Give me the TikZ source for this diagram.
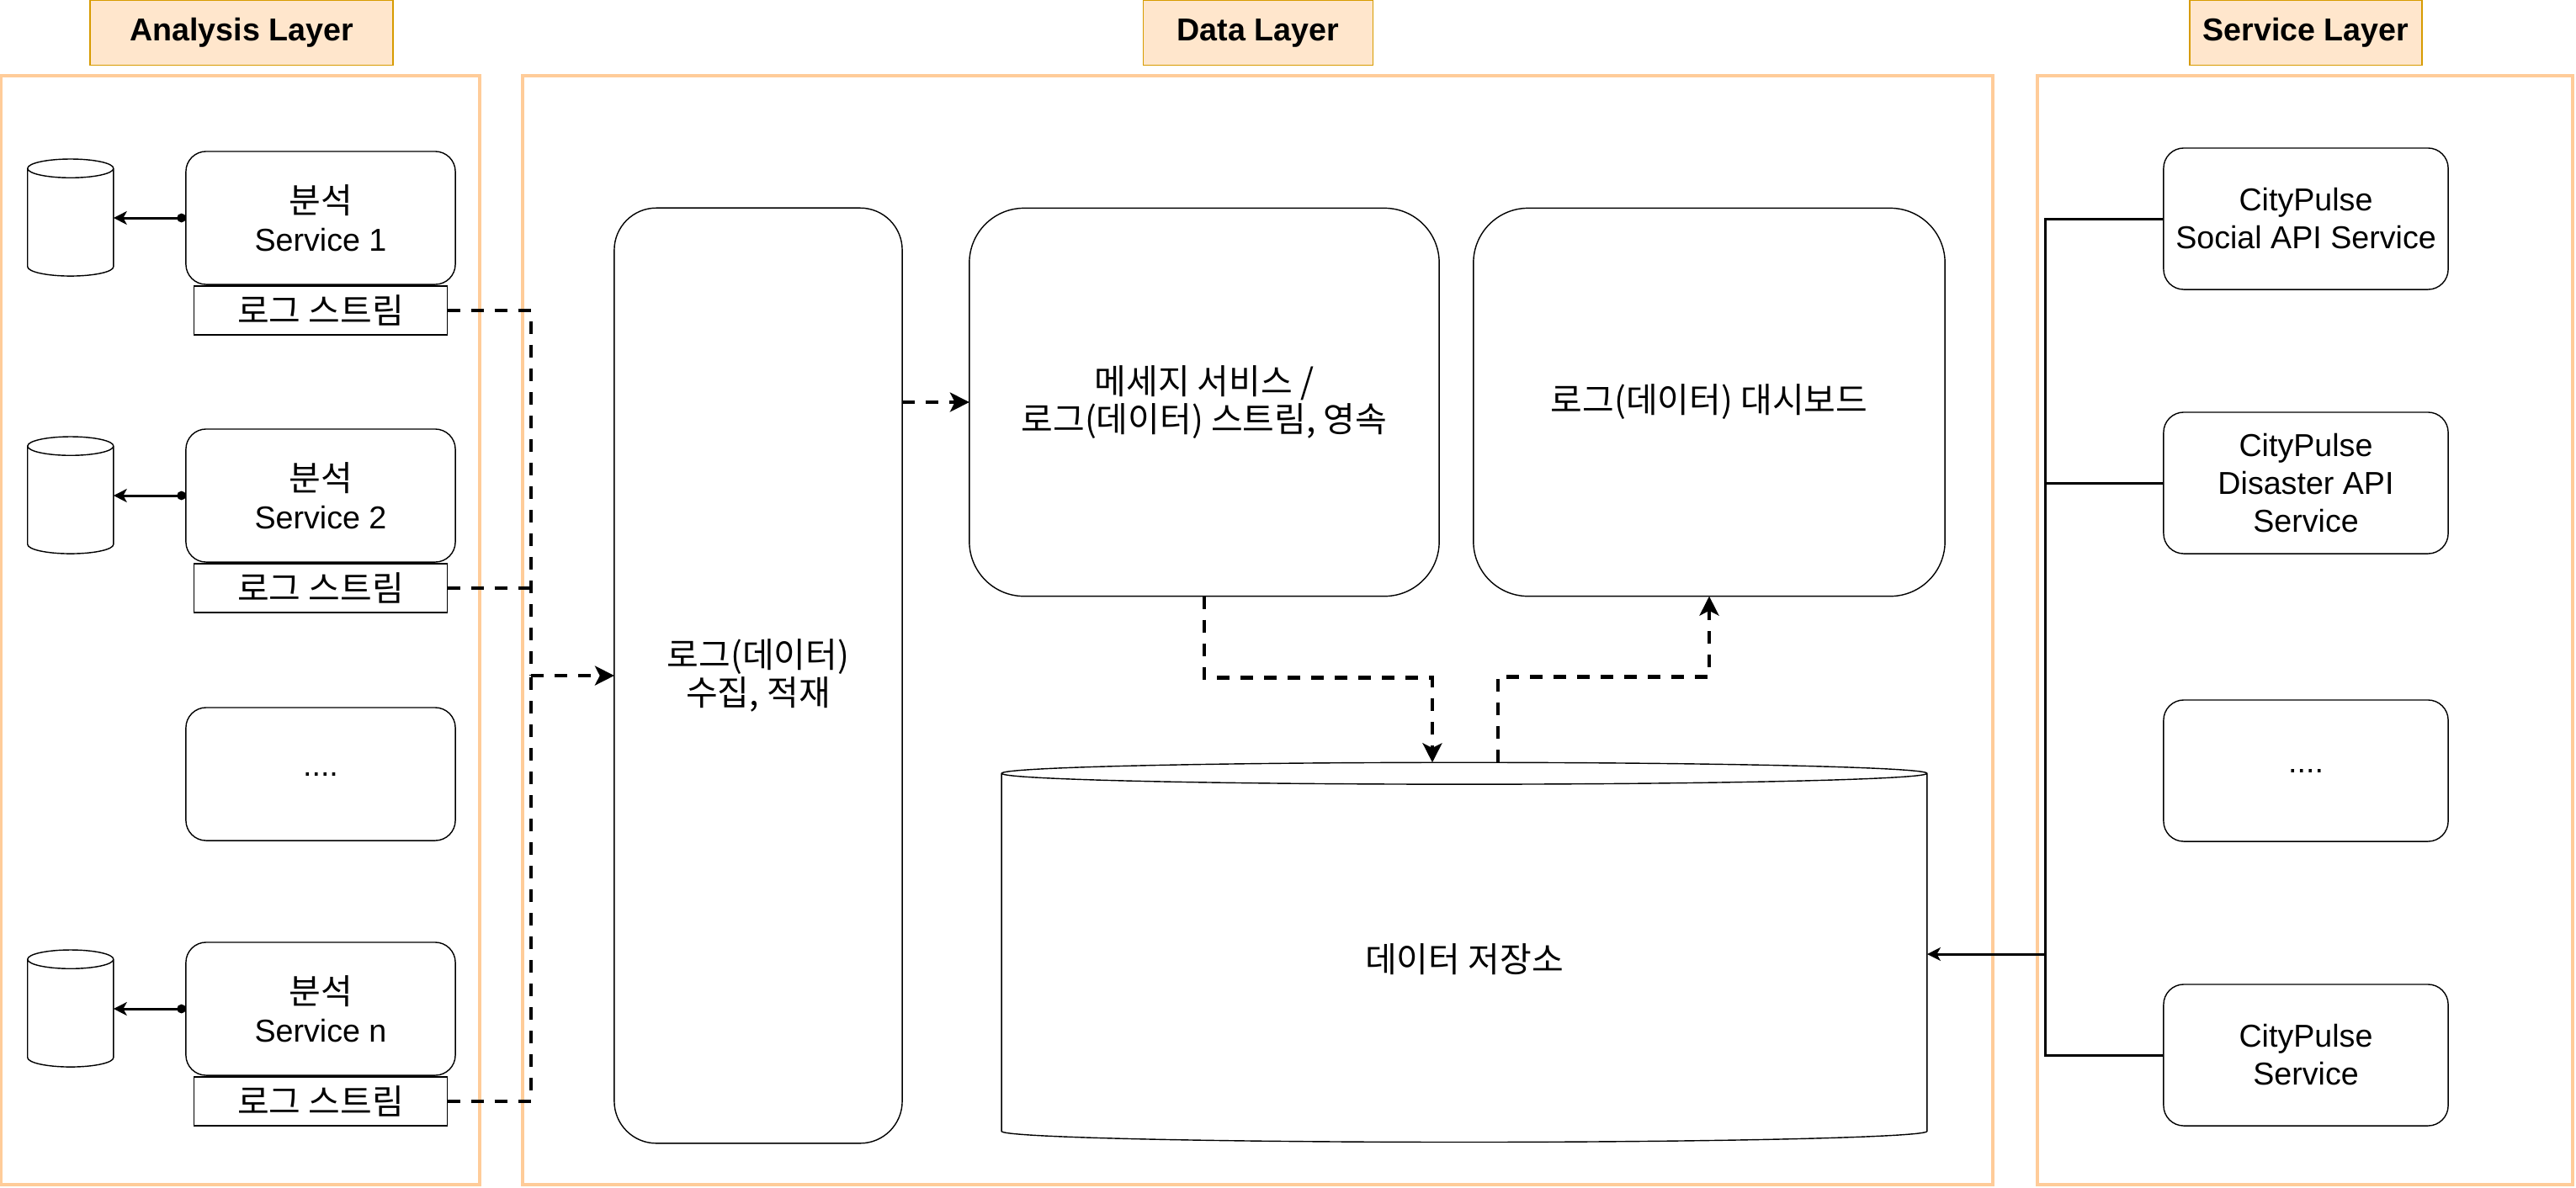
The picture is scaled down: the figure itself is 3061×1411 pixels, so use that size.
\documentclass[tikz,border=0pt]{standalone}
\usepackage{fontspec}
\setmainfont{Liberation Sans}
\newfontfamily\kr[Scale=1.09]{Noto Sans CJK KR}
\usetikzlibrary{positioning,calc,shapes.geometric,arrows.meta}
\definecolor{layerfill}{HTML}{FFE6CC}
\definecolor{layerline}{HTML}{D79B00}
\definecolor{panelline}{HTML}{FFCC99}

\begin{document}
\begin{tikzpicture}[x=0.01cm,y=-0.01cm,
				every node/.style={font=\fontsize{10.7}{12.8}\selectfont,align=center,outer sep=0pt},
				kor/.style={font=\kr\fontsize{10.7}{12.8}\selectfont},
				layer/.style={draw=layerline,fill=layerfill,line width=0.5pt,minimum width=3.6cm,minimum height=0.77cm,
					font=\fontsize{10.7}{12.8}\selectfont\bfseries},
				panel/.style={draw=panelline,line width=1pt},
				svc/.style={draw,line width=0.4pt,rounded corners=0.24cm,minimum width=3.2cm,minimum height=1.58cm},
				logbox/.style={kor,draw,line width=0.4pt,minimum width=3.01cm,minimum height=0.58cm,inner sep=0pt},
				api/.style={svc,minimum width=3.38cm,minimum height=1.68cm},
				big/.style={kor,draw,line width=0.4pt,rounded corners=0.65cm},
				db/.style={draw,line width=0.4pt,cylinder,shape border rotate=90},
				smalldb/.style={db,minimum width=1.02cm,minimum height=1.39cm,shape aspect=0.95,yshift=-0.09cm},
				conn/.style={line width=0.85pt},
				dashconn/.style={line width=1.3pt,dash pattern=on 0.15cm off 0.13cm},
				tip/.style={-{Stealth[length=6.5pt,width=6.5pt,inset=1.6pt]}}]
	\useasboundingbox (0,0) rectangle (3061,1411);

	% layer titles and frames
	\node[layer]                     (LA) at (287,39)  {Analysis Layer};
	\node[layer,minimum width=2.73cm] (LD) at (1495,39) {Data Layer};
	\node[layer,minimum width=2.76cm] (LS) at (2740,39) {Service Layer};
	\draw[panel] (1,90) rectangle (570,1408);
	\draw[panel] (621,90) rectangle (2368,1408);
	\draw[panel] (2421,90) rectangle (3057,1408);

	% analysis layer
	\node[svc] (S1) at (381,259)  {{\kr 분석}\\Service 1};
	\node[svc] (S2) at (381,589)  {{\kr 분석}\\Service 2};
	\node[svc] (S3) at (381,920)  {....};
	\node[svc] (SN) at (381,1199) {{\kr 분석}\\Service n};
	\node[logbox] (L1) [below=0.02cm of S1] {로그 스트림};
	\node[logbox] (L2) [below=0.02cm of S2] {로그 스트림};
	\node[logbox] (LN) [below=0.02cm of SN] {로그 스트림};
	\node[smalldb] (C1) [left=0.86cm of S1] {};
	\node[smalldb] (C2) [left=0.86cm of S2] {};
	\node[smalldb] (CN) [left=0.86cm of SN] {};

	% data layer
	\node[big,rounded corners=0.5cm,minimum width=3.42cm,minimum height=11.11cm] (COL) at (901,803)
		{로그(데이터)\\수집, 적재};
	\node[big,minimum width=5.58cm,minimum height=4.61cm] (MSG) at (1431,478)
		{메세지 서비스 /\\로그(데이터) 스트림, 영속};
	\node[big,minimum width=5.6cm,minimum height=4.61cm]  (DSH) at (2031,478) {로그(데이터) 대시보드};
	\node[db,kor,minimum width=10.99cm,minimum height=4.51cm,shape aspect=0.1,yshift=-0.07cm] (ST) at (1740,1133)
		{\raisebox{-0.08cm}{데이터 저장소}};

	% service layer
	\node[api] (SOC) at (2740,260)  {CityPulse\\Social API Service};
	\node[api] (DIS) at (2740,574)  {CityPulse\\Disaster API\\Service};
	\node[api] (SD)  at (2740,916)  {....};
	\node[api] (CPS) at (2740,1254) {CityPulse\\Service};

	\coordinate (LB) at (631,803);
	\coordinate (SB) at (2430,1134);

	% connectors
	\foreach \s/\c in {S1/C1,S2/C2,SN/CN}
		\draw[conn,{Circle[length=3pt]}-{Stealth[length=4.5pt,width=4.5pt,inset=1.2pt]}] (\s.west) -- (\s.west -| \c.east);
	\draw[dashconn] (L1.east) -| (LB);
	\draw[dashconn] (L2.east) -- (L2.east -| LB);
	\draw[dashconn] (LN.east) -| (LB);
	\draw[dashconn,tip] (LB) -- (COL.west);
	\draw[dashconn,tip] (COL.east |- MSG.west) -- (MSG.west);
	\draw[dashconn,tip] (MSG.south) -- ++(0,97) -| ($(ST.north)+(-38,0)$);
	\draw[dashconn,tip] ($(ST.north)+(40,0)$) -- ++(0,-102) -| (DSH.south);
	\draw[conn] (SOC.west) -| (SB);
	\draw[conn] (DIS.west) -- (DIS.west -| SB);
	\draw[conn] (CPS.west) -| (SB);
	\draw[conn,-{Stealth[length=4.5pt,width=4.5pt,inset=1.2pt]}] (SB) -- (SB -| ST.east);
\end{tikzpicture}
\end{document}
